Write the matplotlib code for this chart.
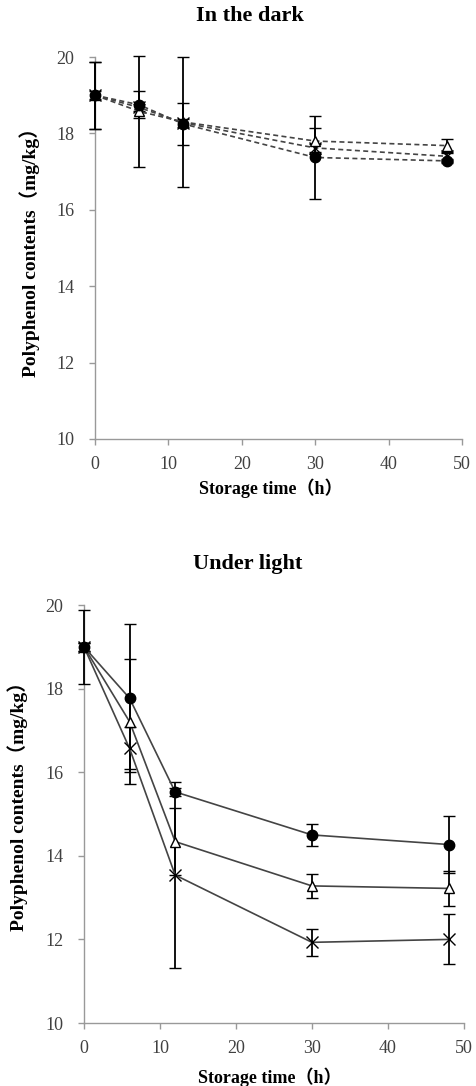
import matplotlib
matplotlib.use("Agg")
import matplotlib.pyplot as plt

# storage time (h)
hours = [0, 6, 12, 30, 48]

# In the dark
dark_circle = [19.0, 18.75, 18.25, 17.37, 17.28]
dark_circle_err = [0.88, 0.35, 0.55, 1.09, 0.05]
dark_triangle = [19.0, 18.58, 18.3, 17.8, 17.68]
dark_triangle_err = [0.88, 1.45, 1.7, 0.35, 0.17]
dark_cross = [19.0, 18.68, 18.28, 17.62, 17.4]
dark_cross_err = [0.1, 0.1, 0.1, 0.1, 0.1]

# Under light
light_circle = [19.0, 17.77, 15.53, 14.5, 14.27]
light_circle_err = [0.88, 1.77, 0.1, 0.27, 0.69]
light_triangle = [19.0, 17.21, 14.34, 13.28, 13.22]
light_triangle_err = [0.1, 1.49, 0.8, 0.28, 0.41]
light_cross = [19.0, 16.57, 13.54, 11.93, 12.0]
light_cross_err = [0.1, 0.5, 2.22, 0.33, 0.6]

yticks = [10, 12, 14, 16, 18, 20]
xticks = [0, 10, 20, 30, 40, 50]

fig = plt.figure(figsize=(4.77, 10.86), dpi=100)

serif = ["Liberation Serif", "Noto Sans CJK JP", "DejaVu Serif"]


def style_axes(ax, xlab_pos, ylab_pos):
    ax.set_xlim(0, 50)
    ax.set_ylim(10, 20)
    ax.set_xticks(xticks)
    ax.set_yticks(yticks)
    for s in ["top", "right"]:
        ax.spines[s].set_visible(False)
    for s in ["left", "bottom"]:
        ax.spines[s].set_color("#999999")
        ax.spines[s].set_linewidth(1.0)
    ax.tick_params(direction="out", length=4, width=1, color="#999999",
                   labelsize=13, labelcolor="#404040")
    ax.tick_params(axis="x", pad=8)
    ax.tick_params(axis="y", pad=11)
    for lab in ax.get_xticklabels() + ax.get_yticklabels():
        lab.set_fontfamily(serif)
    ax.set_xlabel("Storage time（h）", fontfamily=serif, fontweight="bold",
                  fontsize=13)
    ax.set_ylabel("Polyphenol contents（mg/kg）", fontfamily=serif,
                  fontweight="bold", fontsize=14)
    ax.xaxis.set_label_coords(*xlab_pos)
    ax.xaxis.label.set_verticalalignment("center")
    ax.yaxis.set_label_coords(*ylab_pos)
    ax.yaxis.label.set_verticalalignment("center")


def draw(ax, series, ls):
    for y, e, m, fc, ms in series:
        ax.errorbar(hours, y, yerr=e, color="#444444", ls=ls, lw=1.2,
                    marker=m, ms=ms, mfc=fc, mec="black", mew=1.0,
                    ecolor="black", elinewidth=1.3, capsize=4, capthick=1.3,
                    clip_on=False, zorder=3)


ax1 = fig.add_axes([0.199, 0.5958, 0.7696, 0.3517])
draw(ax1, [
    (dark_cross, dark_cross_err, "x", "none", 8),
    (dark_triangle, dark_triangle_err, "^", "white", 7),
    (dark_circle, dark_circle_err, "o", "black", 7.5),
], (0, (3, 2)))
style_axes(ax1, (0.48, -0.128), (-0.177, 0.5))

ax2 = fig.add_axes([0.176, 0.058, 0.7966, 0.3849])
draw(ax2, [
    (light_cross, light_cross_err, "x", "none", 9),
    (light_triangle, light_triangle_err, "^", "white", 7),
    (light_circle, light_circle_err, "o", "black", 7.5),
], "-")
style_axes(ax2, (0.49, -0.129), (-0.174, 0.53))

fig.text(250 / 477, 1 - 16 / 1086, "In the dark", ha="center", va="center",
         fontfamily=serif, fontweight="bold", fontsize=16)
fig.text(248 / 477, 1 - 564 / 1086, "Under light", ha="center", va="center",
         fontfamily=serif, fontweight="bold", fontsize=16)

fig.savefig("out.png", dpi=100)
